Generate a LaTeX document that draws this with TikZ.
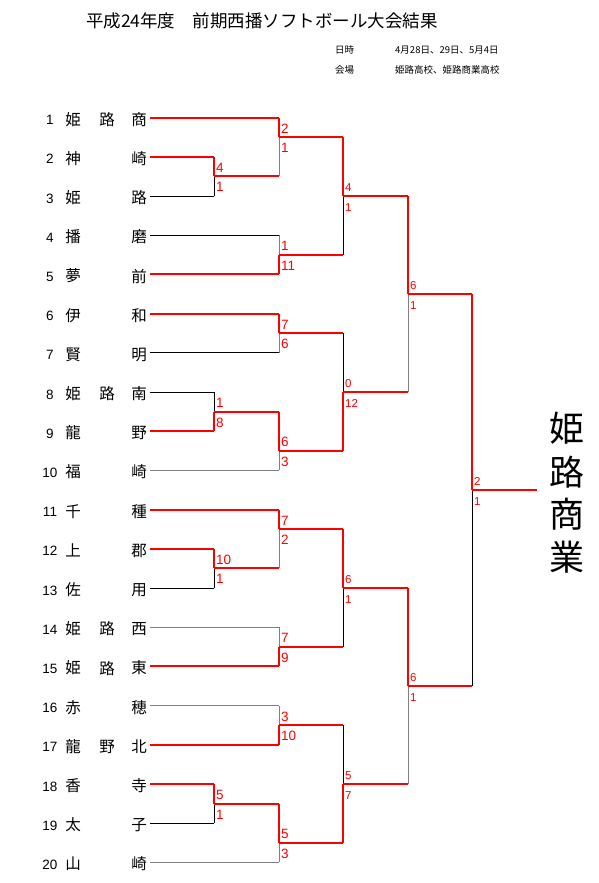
\documentclass[tikz,border=0pt]{standalone}
\usepackage{fontspec}
\setmainfont{Noto Sans CJK JP}
\newfontfamily\lat{Liberation Sans}
\newcommand\bout[7]{%
  \draw[#4] (#2) -- (#2 -| #1);
  \draw[#6] (#3) -- (#3 -| #1);
  \draw[#7] (#3 -| #1) -- (#1);
  \draw[#5] (#2 -| #1) -- (#1);
}
\newcommand\score[4]{%
  \node[#4, anchor=base west, xshift=2pt, yshift=4pt] (#1t) at (#1) {#2};
  \node[#4, anchor=base west, xshift=2pt, yshift=-15.5pt] (#1b) at (#1) {#3};
}
\begin{document}
\begin{tikzpicture}[x=1pt,y=-1pt,
  win/.style={draw=red, line width=2pt},
  lose/.style={draw=black, line width=0.8pt},
  loseg/.style={draw=gray, line width=0.9pt},
  sbig/.style={font=\lat\fontsize{13.5}{13.5}\selectfont, text=red, inner sep=0pt},
  ssmall/.style={font=\lat\fontsize{11.5}{11.5}\selectfont, text=red, inner sep=0pt},
  numlab/.style={font=\lat\fontsize{13.5}{13.5}\selectfont, inner sep=0pt},
  namelab/.style={font=\fontsize{15.5}{15.5}\selectfont, inner sep=0pt},
  info/.style={font=\fontsize{9.5}{9.5}\selectfont, inner sep=0pt, anchor=west},
  champlab/.style={font=\fontsize{35}{35}\selectfont, inner sep=0pt}]
\useasboundingbox (0,0) rectangle (598,883);
\fill[white] (0,0) rectangle (598,883);

% title and info
\node[font=\fontsize{17.5}{17.5}\selectfont, inner sep=0pt] (title) at (262,21) {平成24年度　前期西播ソフトボール大会結果};
\node[info] (dlab) at (335,50) {日時};
\node[info] (dval) at (395,50) {4月28日、29日、5月4日};
\node[info] (vlab) at (335,70) {会場};
\node[info] (vval) at (395,70) {姫路高校、姫路商業高校};

% team line starts
\foreach \i in {1,...,20} {
  \coordinate (t\i) at (150, {117.5+39.2*(\i-1)});
}
% team labels
\foreach \i/\a/\c in {1/姫/商, 2/神/崎, 3/姫/路, 4/播/磨, 5/夢/前, 6/伊/和, 7/賢/明,
  8/姫/南, 9/龍/野, 10/福/崎, 11/千/種, 12/上/郡, 13/佐/用, 14/姫/西, 15/姫/東,
  16/赤/穂, 17/龍/北, 18/香/寺, 19/太/子, 20/山/崎} {
  \node[numlab] (num\i) at (50, {117.5+39.2*(\i-1)+2.5}) {\i};
  \node[namelab] (fa\i) at (73, {117.5+39.2*(\i-1)+1.8}) {\a};
  \node[namelab] (fc\i) at (139, {117.5+39.2*(\i-1)+1.8}) {\c};
}
\foreach \i/\b in {1/路, 8/路, 14/路, 15/路, 17/野} {
  \node[namelab] (fb\i) at (107, {117.5+39.2*(\i-1)+1.8}) {\b};
}

% match points
\coordinate (mA) at (214,176.3);
\coordinate (mB) at (279,137.1);
\coordinate (mC) at (279,254.7);
\coordinate (mD) at (343,195.9);
\coordinate (mE) at (279,333.1);
\coordinate (mF) at (214,411.5);
\coordinate (mG) at (279,450.7);
\coordinate (mH) at (343,391.9);
\coordinate (mI) at (408,293.9);
\coordinate (mJ) at (214,568.3);
\coordinate (mK) at (279,529.1);
\coordinate (mL) at (279,646.7);
\coordinate (mM) at (343,587.9);
\coordinate (mN) at (279,725.1);
\coordinate (mO) at (214,803.5);
\coordinate (mP) at (279,842.7);
\coordinate (mQ) at (343,783.9);
\coordinate (mR) at (408,685.9);
\coordinate (mS) at (472,489.9);
\coordinate (champ) at (537,489.9);

% bouts: match, top, bottom, top-horiz, top-vert, bottom-horiz, bottom-vert
\bout{mA}{t2}{t3}{win}{win}{lose}{lose}
\bout{mB}{t1}{mA}{win}{win}{win}{loseg}
\bout{mC}{t4}{t5}{lose}{loseg}{win}{win}
\bout{mD}{mB}{mC}{win}{win}{win}{lose}
\bout{mE}{t6}{t7}{win}{win}{lose}{loseg}
\bout{mF}{t8}{t9}{lose}{lose}{win}{win}
\bout{mG}{mF}{t10}{win}{win}{loseg}{loseg}
\bout{mH}{mE}{mG}{win}{lose}{win}{win}
\bout{mI}{mD}{mH}{win}{win}{win}{loseg}
\bout{mJ}{t12}{t13}{win}{win}{lose}{lose}
\bout{mK}{t11}{mJ}{win}{win}{win}{loseg}
\bout{mL}{t14}{t15}{loseg}{loseg}{win}{win}
\bout{mM}{mK}{mL}{win}{win}{win}{lose}
\bout{mN}{t16}{t17}{loseg}{loseg}{win}{win}
\bout{mO}{t18}{t19}{win}{win}{lose}{lose}
\bout{mP}{mO}{t20}{win}{win}{loseg}{loseg}
\bout{mQ}{mN}{mP}{win}{lose}{win}{win}
\bout{mR}{mM}{mQ}{win}{win}{win}{loseg}
\bout{mS}{mI}{mR}{win}{win}{win}{lose}
\draw[win] (mS) -- (champ);

% scores
\score{mA}{4}{1}{sbig}
\score{mB}{2}{1}{sbig}
\score{mC}{1}{11}{sbig}
\score{mD}{4}{1}{ssmall}
\score{mE}{7}{6}{sbig}
\score{mF}{1}{8}{sbig}
\score{mG}{6}{3}{sbig}
\score{mH}{0}{12}{ssmall}
\score{mI}{6}{1}{ssmall}
\score{mJ}{10}{1}{sbig}
\score{mK}{7}{2}{sbig}
\score{mL}{7}{9}{sbig}
\score{mM}{6}{1}{ssmall}
\score{mN}{3}{10}{sbig}
\score{mO}{5}{1}{sbig}
\score{mP}{5}{3}{sbig}
\score{mQ}{5}{7}{ssmall}
\score{mR}{6}{1}{ssmall}
\score{mS}{2}{1}{ssmall}

% champion
\node[champlab] (ch1) at (566.5,428) {姫};
\node[champlab] (ch2) at (566.5,472) {路};
\node[champlab] (ch3) at (566.5,514) {商};
\node[champlab] (ch4) at (566.5,557) {業};
\end{tikzpicture}
\end{document}
